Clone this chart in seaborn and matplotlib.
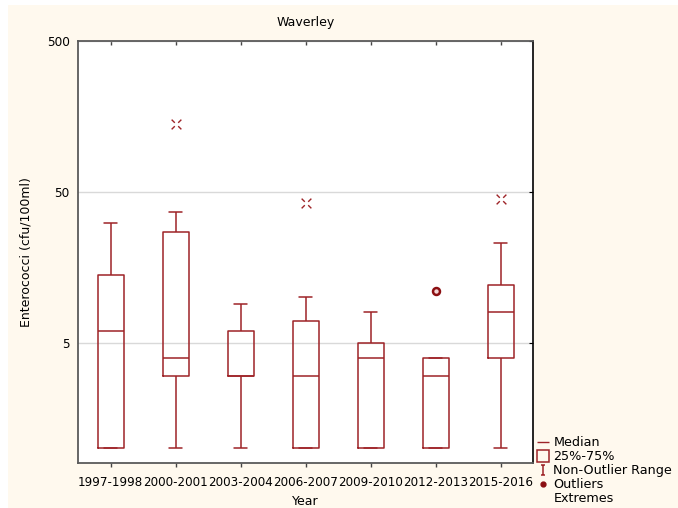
import numpy as np
import pandas as pd
import seaborn as sns
import matplotlib.pyplot as plt
from matplotlib.path import Path
from matplotlib.lines import Line2D
from matplotlib.patches import Rectangle

# box summaries (cfu/100ml)
years = ["1997-1998", "2000-2001", "2003-2004", "2006-2007",
         "2009-2010", "2012-2013", "2015-2016"]
low = [1, 1, 1, 1, 1, 1, 1]
q1 = [1, 3, 3, 1, 1, 1, 4]
median = [6, 4, 3, 3, 4, 3, 8]
q3 = [14, 27, 6, 7, 5, 4, 12]
high = [31, 37, 9, 10, 8, 4, 23]

outlier_years = ["2012-2013"]
outlier_vals = [11]
extreme_years = ["2000-2001", "2006-2007", "2015-2016"]
extreme_vals = [140, 42, 45]

red = "#9E2327"

# five-number summary per period -> long table
rows = []
for i, yr in enumerate(years):
    for v in (low[i], q1[i], median[i], q3[i], high[i]):
        rows.append({"Year": yr, "value": v})
df = pd.DataFrame(rows)

sns.set_style("white")
plt.rcParams["font.family"] = ["DejaVu Sans"]
plt.rcParams["text.color"] = "black"
plt.rcParams["axes.labelcolor"] = "black"
plt.rcParams["xtick.color"] = "black"
plt.rcParams["ytick.color"] = "black"

fig = plt.figure(figsize=(6.78, 5.08), dpi=100, facecolor="white")
fig.patches.append(Rectangle((8 / 678, 0), 1, 1 - 5 / 508, transform=fig.transFigure,
                             facecolor="#FFF9EE", edgecolor="none", zorder=-10))
ax = fig.add_axes([78 / 678, 1 - 463 / 508, 455 / 678, 422 / 508])
ax.set_facecolor("white")

sns.boxplot(data=df, x="Year", y="value", order=years, whis=(0, 100),
            width=0.4, fill=False, color=red, linewidth=1.1,
            log_scale=True, showfliers=False, ax=ax)

# extremes: x-shaped marker with open centre
xs = 1.0
g = 0.35
ext_marker = Path(
    [(-xs, -xs), (-g, -g), (xs, xs), (g, g), (-xs, xs), (-g, g), (xs, -xs), (g, -g)],
    [Path.MOVETO, Path.LINETO] * 4)
pos = {yr: i for i, yr in enumerate(years)}
ax.plot([pos[y] for y in extreme_years], extreme_vals, linestyle="none",
        marker=ext_marker, markersize=7, markerfacecolor="none",
        markeredgecolor=red, markeredgewidth=1.0)
ax.plot([pos[y] for y in outlier_years], outlier_vals, linestyle="none",
        marker="o", markersize=5, markerfacecolor="#F3D6D6",
        markeredgecolor="#8B0F12", markeredgewidth=1.8)

ax.set_xlim(-0.5, len(years) - 0.5)
ax.set_ylim(0.8, 500)
ax.set_yticks([5, 50, 500])
ax.set_yticklabels(["5", "50", "500"])
ax.minorticks_off()
ax.yaxis.grid(True, color="#d9d9d9", linewidth=1)
ax.set_axisbelow(True)

ax.tick_params(axis="x", bottom=True, top=False, direction="out", length=3,
               width=1, labelsize=8.6, pad=6, color="#444444")
ax.tick_params(axis="y", left=False, right=True, direction="in", length=3,
               labelsize=8.7, pad=6)

# top ticks pointing down into the axes
top = ax.secondary_xaxis("top")
top.set_xticks(range(len(years)))
top.tick_params(axis="x", direction="in", length=3, width=1, labeltop=False,
                color="#444444")
top.spines["top"].set_visible(False)

for side in ["left", "top", "bottom"]:
    ax.spines[side].set_color("#5a5a5a")
    ax.spines[side].set_linewidth(1.3)
ax.spines["right"].set_color("black")
ax.spines["right"].set_linewidth(1.2)

ax.set_title("Waverley", fontsize=9, pad=11)
ax.set_xlabel("Year", fontsize=9, labelpad=5)
ax.set_ylabel("Enterococci (cfu/100ml)", fontsize=9, labelpad=10)

ibeam = Path([(-0.5, 1), (0.5, 1), (0, 1), (0, -1), (-0.5, -1), (0.5, -1)],
             [Path.MOVETO, Path.LINETO, Path.MOVETO, Path.LINETO, Path.MOVETO, Path.LINETO])
handles = [
    Line2D([], [], color=red, linewidth=1.1, linestyle="none", marker="_", markersize=8),
    Line2D([], [], linestyle="none", marker="s", markersize=8,
           markerfacecolor="none", markeredgecolor=red, markeredgewidth=1.1),
    Line2D([], [], linestyle="none", marker=ibeam, markersize=7,
           markerfacecolor="none", markeredgecolor=red, markeredgewidth=1.1),
    Line2D([], [], linestyle="none", marker="o", markersize=3.5,
           markerfacecolor="#8B0F12", markeredgecolor="#8B0F12"),
    Line2D([], [], linestyle="none", marker="none"),
]
labels = ["Median", "25%-75%", "Non-Outlier Range", "Outliers", "Extremes"]
fig.legend(handles, labels, loc="upper left", bbox_to_anchor=(538 / 678, 1 - 436 / 508),
           frameon=False, fontsize=9.2, handlelength=0.8, handletextpad=0.4,
           labelspacing=0.08, borderaxespad=0, borderpad=0)

fig.savefig("out.png", dpi=100, facecolor=fig.get_facecolor())
